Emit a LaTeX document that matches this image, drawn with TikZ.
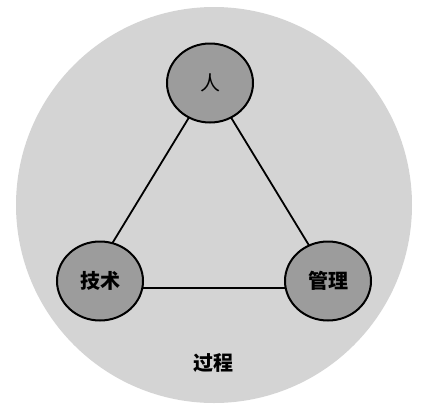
\documentclass[tikz,border=0pt]{standalone}
\usepackage{fontspec}
\usetikzlibrary{shapes.geometric}
\newfontfamily\cjk{Noto Sans CJK SC}
\definecolor{bigfill}{RGB}{212,212,212}
\definecolor{smallfill}{RGB}{156,156,156}
\begin{document}
\begin{tikzpicture}[x=1pt,y=-1pt,
  elem/.style={ellipse, draw=black, line width=2pt, fill=smallfill,
    minimum width=86pt, minimum height=79pt, inner sep=0pt,
    font=\cjk\bfseries\fontsize{20}{20}\selectfont},
  link/.style={line width=1.8pt, draw=black}]
\useasboundingbox (0,0) rectangle (421,416);
\node[circle, fill=bigfill, minimum size=396pt, inner sep=0pt] (proc) at (214,205) {};
\coordinate (A) at (210,83);
\coordinate (B) at (85,288);
\coordinate (C) at (335,288);
\draw[link] (A) -- (B) -- (C) -- cycle;
\node[elem, font=\cjk\fontsize{20}{20}\selectfont] (ren) at (210,83) {人};
\node[elem] (jishu) at (100,281) {技术};
\node[elem] (guanli) at (328,281) {管理};
\node[font=\cjk\bfseries\fontsize{20}{20}\selectfont] (guocheng) at (213,363) {过程};
\end{tikzpicture}
\end{document}
